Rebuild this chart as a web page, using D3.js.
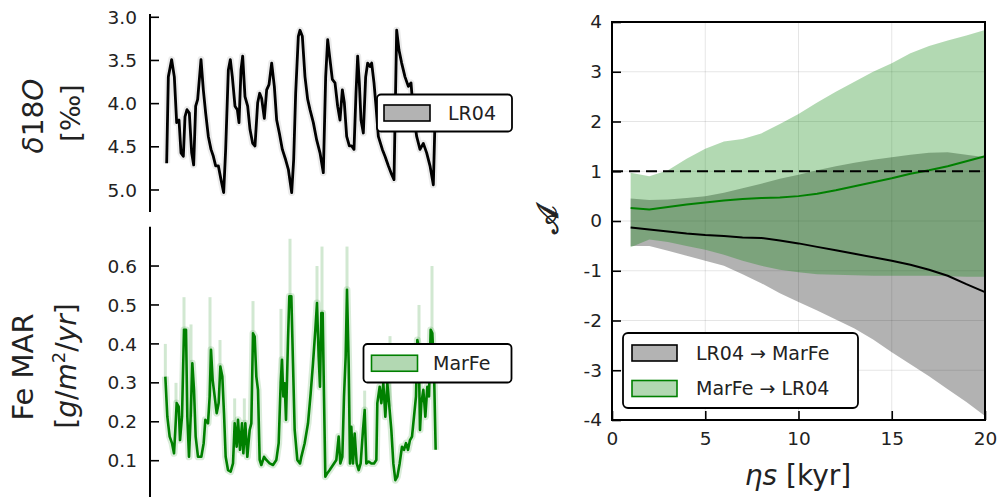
<!DOCTYPE html>
<html><head><meta charset="utf-8">
<script src="https://cdn.jsdelivr.net/npm/d3@7"></script>
<style>body{margin:0;background:#fff}svg{display:block;font-family:"DejaVu Sans",sans-serif}</style>
</head><body><svg id="c" width="999" height="497"></svg>
<script>
// ---------- data: left panels (time in kyr, arbitrary origin) ----------
const lr04Age = [5,10,20,28,35,42,48,55,60,66,73,80,86,92,98,108,115,122,130,138,145,152,160,168,176,182,190,196,202,210,217,222,228,233,240,248,255,263,270,278,284,290,298,305,312,320,328,335,343,352,362,370,380,386,392,400,405,412,420,428,435,445,455,465,475,482,488,495,502,510,518,525,532,538,545,553,560,567,573,578,583,588,595,602,608,615,620,627,633,640,652,660,670,680,687,695,702,710,720,730,738,745,755,765,775,785,795,805,810];
const lr04Val = [4.69,3.69,3.49,3.69,4.22,4.19,4.57,4.61,4.15,4.07,4.11,4.57,4.71,4.03,3.95,3.49,3.84,4.11,4.38,4.53,4.61,4.72,4.72,4.88,5.03,4.53,3.61,3.49,3.69,4.03,4.07,4.22,3.61,3.45,3.92,4.03,4.30,4.46,4.49,3.99,3.88,3.94,4.17,3.84,3.78,3.53,3.80,4.19,4.34,4.53,4.65,4.76,5.03,4.65,3.88,3.22,3.15,3.22,3.69,3.95,4.07,4.22,4.42,4.57,4.80,3.69,3.26,3.49,3.72,3.76,4.03,4.19,3.84,3.99,4.38,4.49,4.49,4.53,3.88,3.45,3.76,4.19,4.34,3.69,3.53,3.57,3.53,3.76,4.03,4.38,4.53,4.61,4.72,4.82,4.88,3.15,3.38,3.53,3.69,3.80,3.76,4.10,4.38,4.53,4.46,4.57,4.72,4.94,4.20];
const marfeAge = [1,7,14,21,27,31,35,41,45,51,57,63,67,72,77,82,87,92,99,109,116,121,129,134,138,143,149,155,161,166,172,177,182,189,197,204,209,215,219,225,231,235,241,247,254,259,264,269,274,279,284,289,297,304,314,324,334,341,347,351,355,359,363,369,373,379,384,389,397,405,409,419,429,437,444,451,456,461,465,469,473,477,481,487,494,501,507,514,521,526,532,537,542,546,551,555,559,564,569,575,581,587,594,599,604,611,619,627,634,637,644,649,655,661,667,673,679,685,691,697,704,711,717,723,729,735,741,747,753,757,761,765,769,775,781,787,792,797,802,807,812];
const marfeVal = [0.316,0.213,0.162,0.145,0.119,0.179,0.248,0.239,0.153,0.213,0.436,0.436,0.213,0.110,0.213,0.350,0.282,0.162,0.110,0.110,0.145,0.205,0.196,0.265,0.385,0.307,0.265,0.222,0.248,0.342,0.316,0.222,0.110,0.076,0.072,0.093,0.196,0.136,0.205,0.128,0.196,0.119,0.196,0.110,0.179,0.196,0.427,0.419,0.316,0.282,0.102,0.089,0.110,0.102,0.093,0.089,0.102,0.145,0.299,0.359,0.265,0.299,0.205,0.410,0.522,0.522,0.350,0.179,0.102,0.093,0.110,0.145,0.196,0.273,0.350,0.436,0.505,0.367,0.290,0.479,0.479,0.265,0.059,0.068,0.076,0.085,0.093,0.102,0.162,0.093,0.110,0.265,0.367,0.539,0.350,0.093,0.187,0.093,0.170,0.093,0.076,0.093,0.179,0.230,0.093,0.098,0.093,0.093,0.102,0.248,0.290,0.248,0.299,0.213,0.299,0.239,0.179,0.093,0.050,0.059,0.093,0.136,0.128,0.145,0.128,0.153,0.162,0.213,0.265,0.410,0.393,0.179,0.248,0.282,0.213,0.290,0.265,0.436,0.427,0.333,0.128];
const marfeSpikeAge = [1,33,57,78,135,165,209,238,264,348,375,456,471,546,599,675,762,801];
const marfeSpikeHi = [0.40,0.30,0.52,0.45,0.52,0.41,0.26,0.26,0.51,0.49,0.67,0.60,0.65,0.65,0.28,0.42,0.50,0.60];
const lr04Ticks = [3.0,3.5,4.0,4.5,5.0];
const marfeTicks = [0.1,0.2,0.3,0.4,0.5,0.6];

// ---------- data: right panel ----------
const etaS = [1,2,3,4,5,6,7,8,9,10,11,12,13,14,15,16,17,18,19,20];
const lrToMarMean = [-0.13,-0.17,-0.21,-0.25,-0.28,-0.30,-0.33,-0.34,-0.39,-0.45,-0.52,-0.59,-0.66,-0.73,-0.80,-0.88,-0.98,-1.10,-1.27,-1.43];
const lrToMarHi = [0.45,0.42,0.43,0.46,0.50,0.57,0.66,0.75,0.85,0.93,1.02,1.10,1.17,1.23,1.28,1.33,1.37,1.38,1.33,1.28];
const lrToMarLo = [-0.50,-0.50,-0.60,-0.70,-0.80,-0.90,-1.07,-1.25,-1.45,-1.63,-1.80,-1.98,-2.16,-2.38,-2.64,-2.88,-3.12,-3.38,-3.64,-3.92];
const marToLrMean = [0.26,0.23,0.28,0.33,0.37,0.41,0.44,0.46,0.47,0.50,0.55,0.62,0.70,0.78,0.86,0.95,1.02,1.10,1.20,1.30];
const marToLrHi = [0.97,0.90,1.02,1.25,1.45,1.60,1.65,1.76,1.95,2.15,2.38,2.60,2.80,3.00,3.17,3.37,3.52,3.63,3.73,3.84];
const marToLrLo = [-0.53,-0.37,-0.42,-0.50,-0.58,-0.68,-0.80,-0.90,-0.98,-1.03,-1.07,-1.08,-1.09,-1.10,-1.10,-1.10,-1.10,-1.11,-1.12,-1.12];
const etaTicks = [0,5,10,15,20];
const aTicks = [-4,-3,-2,-1,0,1,2,3,4];
const threshold = 1;

const svg = d3.select("#c");
const GREEN = "#008000";

// ---------- left panels ----------
const tx = d3.scaleLinear().domain([0, 810]).range([165, 435]);
const yTop = d3.scaleLinear().domain([2.962, 5.255]).range([14, 212]);
const yBot = d3.scaleLinear().domain([0.0068, 0.701]).range([497, 226.7]);

function leftAxis(scale, ticks, fmt) {
  const g = svg.append("g").attr("transform", "translate(150,0)");
  g.append("line").attr("x1",0).attr("x2",0)
    .attr("y1", scale.range()[0]).attr("y2", scale.range()[1])
    .attr("stroke","#000").attr("stroke-width",2);
  ticks.forEach(t => {
    g.append("line").attr("x1",0).attr("x2",9).attr("y1",scale(t)).attr("y2",scale(t))
      .attr("stroke","#000").attr("stroke-width",1.6);
    g.append("text").attr("x",-13).attr("y",scale(t)).attr("dy","0.36em")
      .attr("text-anchor","end").attr("font-size",18.5).attr("fill","#222").text(fmt(t));
  });
}
leftAxis(yTop, lr04Ticks, d3.format(".1f"));
leftAxis(yBot, marfeTicks, d3.format(".1f"));

const lr04 = lr04Age.map((a,i)=>[a, lr04Val[i]]);
const marfe = marfeAge.map((a,i)=>[a, marfeVal[i]]);
const lineTop = d3.line().x(d=>tx(d[0])).y(d=>yTop(d[1]));
const lineBot = d3.line().x(d=>tx(d[0])).y(d=>yBot(d[1]));

svg.append("path").attr("d", lineTop(lr04)).attr("fill","none")
  .attr("stroke","#000").attr("stroke-opacity",0.08).attr("stroke-width",7).attr("stroke-linejoin","round");
svg.append("path").attr("d", lineTop(lr04)).attr("fill","none")
  .attr("stroke","#000").attr("stroke-width",2.8).attr("stroke-linejoin","round");

// MarFe uncertainty spikes + ribbon
const bis = d3.bisector(d=>d[0]).center;
marfeSpikeAge.forEach((a,i)=>{
  const v = marfe[bis(marfe, a)][1];
  svg.append("line").attr("x1",tx(a)).attr("x2",tx(a)).attr("y1",yBot(v)).attr("y2",yBot(marfeSpikeHi[i]))
    .attr("stroke",GREEN).attr("stroke-opacity",0.18).attr("stroke-width",3);
});
svg.append("path").attr("d", lineBot(marfe)).attr("fill","none")
  .attr("stroke",GREEN).attr("stroke-opacity",0.15).attr("stroke-width",7).attr("stroke-linejoin","round");
svg.append("path").attr("d", lineBot(marfe)).attr("fill","none")
  .attr("stroke",GREEN).attr("stroke-width",2.6).attr("stroke-linejoin","round");

function legendBox(x, y, w, h, fill, stroke, label, px, tx0) {
  svg.append("rect").attr("x",x).attr("y",y).attr("width",w).attr("height",h).attr("rx",4)
    .attr("fill","#fff").attr("stroke","#000").attr("stroke-width",1.8);
  svg.append("rect").attr("x",px).attr("y",y+h/2-8).attr("width",46).attr("height",16)
    .attr("fill",fill).attr("stroke",stroke).attr("stroke-width",1.6);
  svg.append("text").attr("x",tx0).attr("y",y+h/2).attr("dy","0.36em")
    .attr("font-size",19).attr("fill","#222").text(label);
}
legendBox(377, 94.5, 135, 37, "#b3b3b3", "#000", "LR04", 384, 448);
legendBox(363.5, 344, 148, 38.5, "#b2d8b2", GREEN, "MarFe", 371.5, 433);

// left y labels
function vlabel(x, y, size, build) {
  const t = svg.append("text").attr("transform",`translate(${x},${y}) rotate(-90)`)
    .attr("text-anchor","middle").attr("font-size",size).attr("fill","#222");
  build(t);
}
vlabel(43, 116, 28, t => {
  t.append("tspan").attr("font-style","italic").text("δ");
  t.append("tspan").text("18");
  t.append("tspan").attr("font-style","italic").text("O");
});
vlabel(80, 113, 27, t => t.text("[‰]"));
vlabel(33, 367, 29, t => t.text("Fe MAR"));
vlabel(76, 366, 28, t => {
  t.append("tspan").text("[");
  t.append("tspan").attr("font-style","italic").text("g");
  t.append("tspan").text("/");
  t.append("tspan").attr("font-style","italic").text("m");
  t.append("tspan").attr("font-size",18).attr("dy",-11).text("2");
  t.append("tspan").attr("dy",11).text("/");
  t.append("tspan").attr("font-style","italic").text("yr");
  t.append("tspan").text("]");
});

// ---------- right panel ----------
const X0 = 612, X1 = 985, Y0 = 22, Y1 = 420;
const x = d3.scaleLinear().domain([0,20]).range([X0,X1]);
const y = d3.scaleLinear().domain([-4,4]).range([Y1,Y0]);
const pg = svg.append("g");
pg.selectAll(".gx").data(etaTicks).enter().append("line")
  .attr("x1",d=>x(d)).attr("x2",d=>x(d)).attr("y1",Y0).attr("y2",Y1)
  .attr("stroke","#000").attr("stroke-opacity",0.1).attr("stroke-width",1);
pg.selectAll(".gy").data(aTicks).enter().append("line")
  .attr("x1",X0).attr("x2",X1).attr("y1",d=>y(d)).attr("y2",d=>y(d))
  .attr("stroke","#000").attr("stroke-opacity",0.1).attr("stroke-width",1);

const area = (lo, hi) => d3.area().x((d,i)=>x(etaS[i])).y0((d,i)=>y(lo[i])).y1((d,i)=>y(hi[i]))(etaS);
const line = vals => d3.line().x((d,i)=>x(etaS[i])).y((d,i)=>y(vals[i]))(etaS);
pg.append("path").attr("d", area(lrToMarLo, lrToMarHi)).attr("fill","#000").attr("fill-opacity",0.3);
pg.append("path").attr("d", area(marToLrLo, marToLrHi)).attr("fill",GREEN).attr("fill-opacity",0.3);
pg.append("path").attr("d", line(lrToMarMean)).attr("fill","none").attr("stroke","#000").attr("stroke-width",2);
pg.append("path").attr("d", line(marToLrMean)).attr("fill","none").attr("stroke",GREEN).attr("stroke-width",2);
pg.append("line").attr("x1",x(0)).attr("x2",x(20)).attr("y1",y(threshold)).attr("y2",y(threshold))
  .attr("stroke","#000").attr("stroke-width",2).attr("stroke-dasharray","11,6");

// frame + ticks
pg.append("rect").attr("x",X0).attr("y",Y0).attr("width",X1-X0).attr("height",Y1-Y0)
  .attr("fill","none").attr("stroke","#000").attr("stroke-width",2);
const xa = d3.axisBottom(x).tickValues(etaTicks).tickSize(-9).tickPadding(12).tickFormat(d3.format("d"));
const ya = d3.axisLeft(y).tickValues(aTicks).tickSize(-9).tickPadding(10).tickFormat(d=>String(d));
const gxa = svg.append("g").attr("transform",`translate(0,${Y1})`).call(xa);
const gya = svg.append("g").attr("transform",`translate(${X0},0)`).call(ya);
[gxa, gya].forEach(g => {
  g.select(".domain").remove();
  g.selectAll(".tick line").attr("stroke","#000").attr("stroke-width",1.6);
  g.selectAll("text").attr("font-size",18.5).attr("fill","#222").attr("font-family","DejaVu Sans");
});

// legend right
const L = svg.append("g");
L.append("rect").attr("x",623).attr("y",333).attr("width",235).attr("height",75).attr("rx",5)
  .attr("fill","#fff").attr("stroke","#000").attr("stroke-width",1.8);
[["#b3b3b3","#000","LR04 → MarFe",353],["#b2d8b2",GREEN,"MarFe → LR04",388.5]].forEach(e=>{
  L.append("rect").attr("x",632).attr("y",e[3]-8).attr("width",45).attr("height",16)
    .attr("fill",e[0]).attr("stroke",e[1]).attr("stroke-width",1.6);
  L.append("text").attr("x",696).attr("y",e[3]).attr("dy","0.36em").attr("font-size",19)
    .attr("fill","#222").text(e[2]);
});

// right axis labels
svg.append("text").attr("transform","translate(558,220) rotate(-90)").attr("text-anchor","middle")
  .attr("font-size",30).attr("fill","#222").attr("stroke","#222").attr("stroke-width",0.9)
  .text("𝒜");
const xl = svg.append("text").attr("x",798).attr("y",485).attr("text-anchor","middle")
  .attr("font-size",28).attr("fill","#222");
xl.append("tspan").attr("font-style","italic").text("ηs");
xl.append("tspan").text(" [kyr]");
</script></body></html>
